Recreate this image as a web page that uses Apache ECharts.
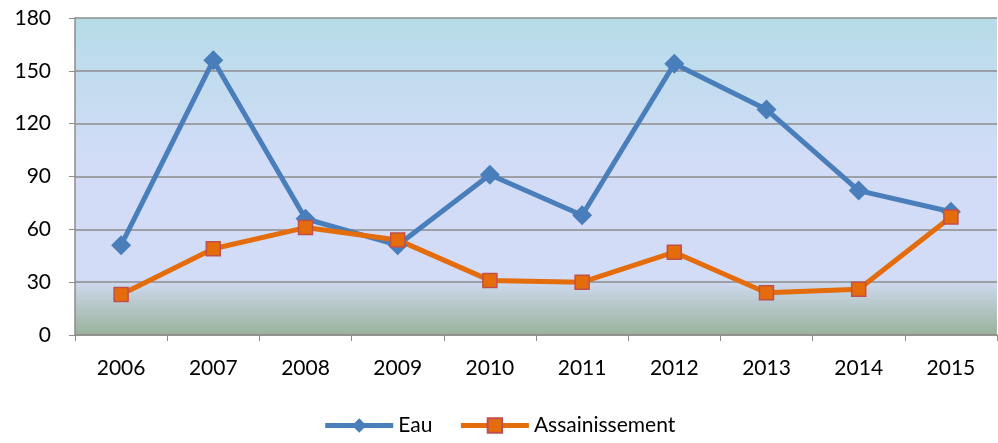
<!DOCTYPE html>
<html><head><meta charset="utf-8">
<script src="https://cdn.jsdelivr.net/npm/echarts@6/dist/echarts.min.js"></script>
<style>html,body{margin:0;padding:0;background:#fff}#c{width:998px;height:443px}</style>
</head><body><div id="c"></div>
<script>
const categories = ['2006','2007','2008','2009','2010','2011','2012','2013','2014','2015'];
const eau = [51,156,66,51,91,68,154,128,82,70];
const assainissement = [23,49,61,54,31,30,47,24,26,67];
const yTicks = [0,30,60,90,120,150,180];

const chart = echarts.init(document.getElementById('c'));
const font = 'Lato, "Open Sans", sans-serif';
chart.setOption({
  animation:false,
  textStyle:{fontFamily:font},
  grid:{left:75,right:1,top:18,bottom:108,show:true,borderWidth:0,
    backgroundColor:new echarts.graphic.LinearGradient(0,0,0,1,[
      {offset:0,color:'#b6dce8'},
      {offset:0.45,color:'#d2dcf7'},
      {offset:0.82,color:'#d2dcf6'},
      {offset:1,color:'#9ab29a'}])},
  legend:{bottom:2,left:'center',itemWidth:68,itemHeight:18,itemGap:26,
    textStyle:{fontSize:21,color:'#000',fontFamily:font},
    lineStyle:{width:5},
    data:['Eau','Assainissement']},
  xAxis:{type:'category',data:categories,boundaryGap:true,
    axisLine:{lineStyle:{color:'#8c8c8c',width:1.5}},
    axisTick:{show:true,length:6,lineStyle:{color:'#8c8c8c'}},
    axisLabel:{fontSize:21,color:'#000',margin:23,fontFamily:font}},
  yAxis:{type:'value',min:0,max:180,interval:30,
    axisLine:{show:true,lineStyle:{color:'#8c8c8c',width:1.5}},
    axisTick:{show:true,length:6,lineStyle:{color:'#8c8c8c'}},
    splitLine:{lineStyle:{color:'#8c8c8c',width:1.5}},
    axisLabel:{fontSize:21,color:'#000',margin:24,fontFamily:font,
      formatter:v=>yTicks.includes(v)?String(v):''}},
  series:[
    {name:'Eau',type:'line',data:eau,symbol:'diamond',symbolSize:20,
      lineStyle:{color:'#4a7ebb',width:5},itemStyle:{color:'#4a7ebb'}},
    {name:'Assainissement',type:'line',data:assainissement,symbol:'rect',symbolSize:14,
      lineStyle:{color:'#e46c0a',width:5},
      itemStyle:{color:'#e46c0a',borderColor:'#c0504d',borderWidth:1.5}}
  ]
});
</script></body></html>
